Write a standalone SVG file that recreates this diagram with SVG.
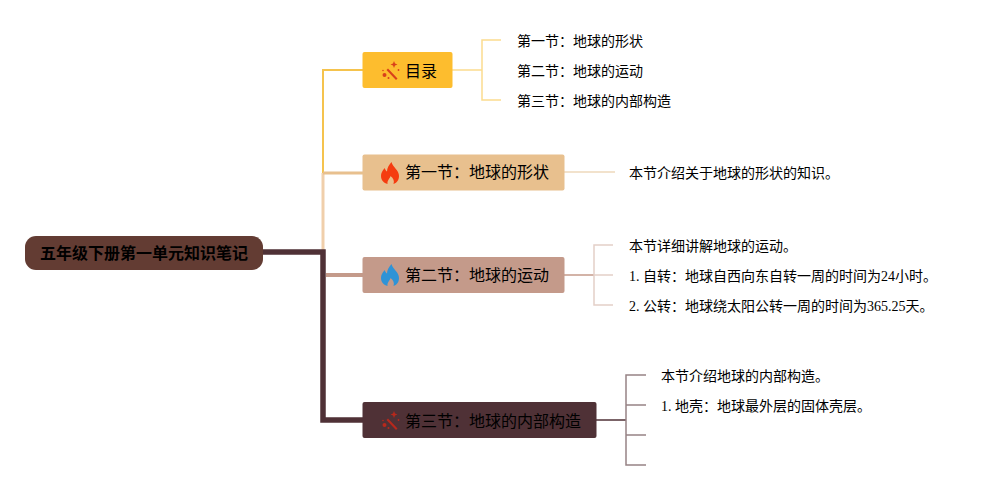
<svg xmlns="http://www.w3.org/2000/svg" width="997" height="490" viewBox="0 0 997 490">
<style>
text{font-family:"Liberation Serif","Noto Sans CJK SC",serif;fill:#000}
.t{font-size:16px}
.s{font-size:14px}
.r{font-size:16px;font-weight:bold}
path{fill:none}
.d{fill:currentColor;stroke:none}
</style>
<defs>
<g id="wand"><path class="d" d="M-3 -2.500L6.500 7.500 5 9 -4.500 -1z"/><path class="d" d="M3 -10L4 -7.500 6.500 -6.500 4 -5.500 3 -3 2 -5.500 -0.500 -6.500 2 -7.500z"/><circle class="d" cx="-6.500" cy="4" r="2"/><circle class="d" cx="-8" cy="-0.500" r="0.800"/><circle class="d" cx="-2.500" cy="7" r="1"/><circle class="d" cx="7.500" cy="-1" r="0.900"/></g>
<path id="flame" class="d" d="M1.500 -11C2.500 -6 9 -3 9 3C9 7.500 6.500 10 3.500 11C4.500 8 3.500 5 0.500 3C0.500 5 -3 7 -2.500 11C-6 10 -9 7.500 -9 3C-9 -1 -6.500 -3 -5.500 -5C-4.500 -3 -4 -2 -3 -1.500C-3 -5 -1 -8 1.500 -11Z"/>
</defs>
<g id="connectors">
<path d="M323 252V70H363" stroke="#f5c34d" stroke-width="2"/>
<path d="M323 252V173" stroke="#f0cfab" stroke-width="3"/>
<path d="M323 173H363" stroke="#e8c08e" stroke-width="3"/>
<path d="M263 252H323V420H363" stroke="#4f3136" stroke-width="5.500"/>
<path d="M326 275H363" stroke="#c49a8a" stroke-width="4"/>
<path d="M452 70H482M501 40H482V100H501" stroke="#fbdc8e" stroke-width="1.500"/>
<path d="M564 172H615" stroke="#eed8bb" stroke-width="1.500"/>
<path d="M564 275H594" stroke="#c49a8a" stroke-width="1.500"/>
<path d="M613 245H594V305H613M594 275H613" stroke="#e4d0c8" stroke-width="1.500"/>
<path d="M596 420H626" stroke="#4f3136" stroke-width="1.500"/>
<path d="M646 375H626V465H646M626 405H646M626 435H646" stroke="#968385" stroke-width="1.500"/>
</g>
<g id="root"><rect x="25" y="236" width="238" height="34" rx="11" fill="#633c33"/><text class="r" x="144" y="259" text-anchor="middle">五年级下册第一单元知识笔记</text></g>
<g id="n1"><rect x="362.500" y="52" width="90" height="36" rx="2" fill="#fdbd2e"/><use href="#wand" x="391" y="71" color="#d9401b"/><text class="t" x="405" y="77">目录</text></g>
<g id="n2"><rect x="362.500" y="154.500" width="202" height="36" rx="2" fill="#e8c08e"/><use href="#flame" x="390" y="173" color="#f53c10"/><text class="t" x="405" y="178">第一节：地球的形状</text></g>
<g id="n3"><rect x="362.500" y="257" width="202" height="36" rx="2" fill="#c49a8a"/><use href="#flame" x="390" y="275" color="#2f93d6"/><text class="t" x="405" y="281">第二节：地球的运动</text></g>
<g id="n4"><rect x="362.500" y="402" width="234" height="36" rx="2" fill="#4f3136"/><use href="#wand" x="391" y="421" color="#b8281c"/><text class="t" x="405" y="427">第三节：地球的内部构造</text></g>
<g id="l1"><text class="s" x="517" y="46">第一节：地球的形状</text></g>
<g id="l2"><text class="s" x="517" y="76">第二节：地球的运动</text></g>
<g id="l3"><text class="s" x="517" y="106">第三节：地球的内部构造</text></g>
<g id="l4"><text class="s" x="629" y="178">本节介绍关于地球的形状的知识。</text></g>
<g id="l5"><text class="s" x="629" y="251">本节详细讲解地球的运动。</text></g>
<g id="l6"><text class="s" x="629" y="281">1. 自转：地球自西向东自转一周的时间为24小时。</text></g>
<g id="l7"><text class="s" x="629" y="311">2. 公转：地球绕太阳公转一周的时间为365.25天。</text></g>
<g id="l8"><text class="s" x="661" y="381">本节介绍地球的内部构造。</text></g>
<g id="l9"><text class="s" x="661" y="411">1. 地壳：地球最外层的固体壳层。</text></g>
</svg>
